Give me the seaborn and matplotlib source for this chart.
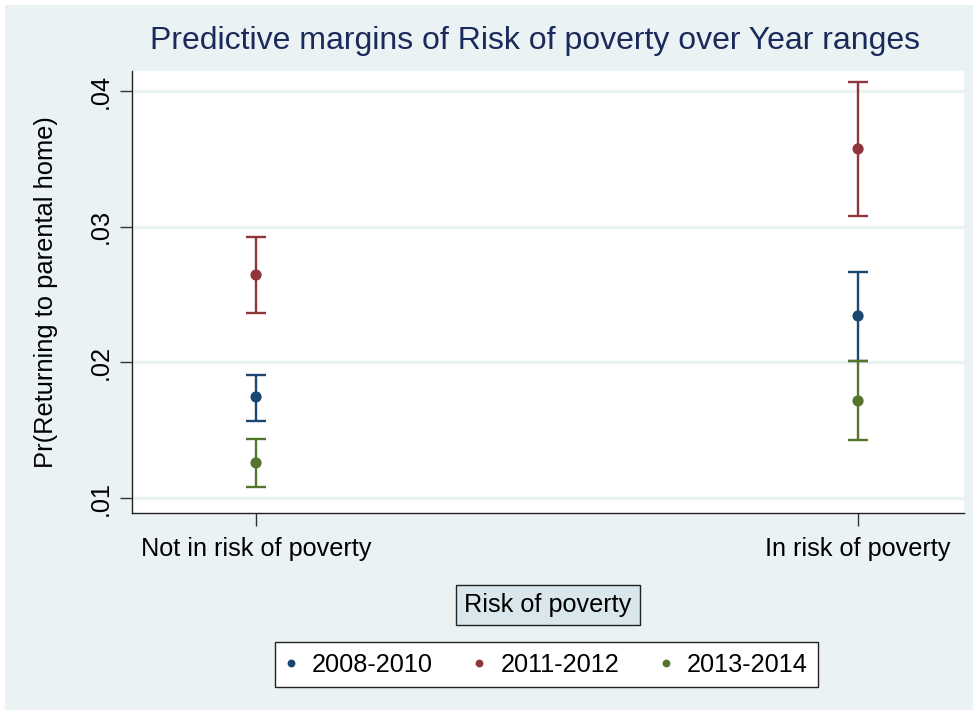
import matplotlib
matplotlib.use("Agg")
import matplotlib.pyplot as plt
import pandas as pd
import numpy as np
import seaborn as sns

# values
categories = ["Not in risk of poverty", "In risk of poverty"]
periods = ["2008-2010", "2011-2012", "2013-2014"]
margin = {
    "2008-2010": [0.01745, 0.02342],
    "2011-2012": [0.02644, 0.03573],
    "2013-2014": [0.01259, 0.01716],
}
ci_low = {
    "2008-2010": [0.01568, 0.02010],
    "2011-2012": [0.02364, 0.03079],
    "2013-2014": [0.01082, 0.01428],
}
ci_high = {
    "2008-2010": [0.01907, 0.02666],
    "2011-2012": [0.02924, 0.04066],
    "2013-2014": [0.01435, 0.02010],
}
colors = {"2008-2010": "#1a476f", "2011-2012": "#90353b", "2013-2014": "#55752f"}

rows = []
for p in periods:
    for i, c in enumerate(categories):
        rows.append({"Risk": c, "pos": i, "Period": p,
                     "Margin": margin[p][i], "lo": ci_low[p][i], "hi": ci_high[p][i]})
df = pd.DataFrame(rows)

sns.set_style("white")
plt.rcParams["font.family"] = ["Liberation Sans", "DejaVu Sans"]
plt.rcParams["text.color"] = "black"
plt.rcParams["axes.labelcolor"] = "black"
plt.rcParams["xtick.labelcolor"] = "black"
plt.rcParams["ytick.labelcolor"] = "black"

bg = "#eaf2f3"
fig = plt.figure(figsize=(9.78, 7.15), dpi=100)
fig.patch.set_facecolor(bg)
fig.patch.set_edgecolor("white")
fig.patch.set_linewidth(5.8)
ax = fig.add_axes([0.135, 0.2825, 0.8507, 0.6182])
ax.set_facecolor("white")

for p in periods:
    d = df[df["Period"] == p]
    ax.errorbar(d["pos"], d["Margin"],
                yerr=[d["Margin"] - d["lo"], d["hi"] - d["Margin"]],
                fmt="none", ecolor=colors[p], elinewidth=1.7, capsize=7,
                capthick=1.7, zorder=3)
sns.scatterplot(data=df, x="pos", y="Margin", hue="Period", palette=colors,
                hue_order=periods, s=65, edgecolor="none", ax=ax, zorder=4)

ax.set_xlim(-0.206, 1.176)
ax.set_ylim(0.0089, 0.04147)
ax.set_xticks([0, 1])
ax.set_xticklabels(categories, fontsize=18.2)
ax.set_yticks([0.01, 0.02, 0.03, 0.04])
ax.set_yticklabels([".01", ".02", ".03", ".04"], fontsize=18.2, rotation=90, va="center")
ax.tick_params(axis="both", direction="out", length=9, width=1, color="#333333",
               left=True, bottom=True)
ax.tick_params(axis="y", pad=5)
ax.tick_params(axis="x", pad=8)
ax.grid(axis="y", color=bg, linewidth=2.4)
ax.set_axisbelow(True)
for s in ["top", "right"]:
    ax.spines[s].set_visible(False)
for s in ["left", "bottom"]:
    ax.spines[s].set_color("#222222")
    ax.spines[s].set_linewidth(1.0)

ax.set_ylabel("Pr(Returning to parental home)", fontsize=18.4, labelpad=22)
ax.set_xlabel("Risk of poverty", fontsize=18.2, va="center",
              bbox=dict(boxstyle="square,pad=0.32", facecolor="#d9e6eb",
                        edgecolor="#222222", linewidth=1))
ax.xaxis.set_label_coords(0.5, -0.208)

ax.set_title("Predictive margins of Risk of poverty over Year ranges",
             fontsize=23, color="#1a2a5a", pad=16, x=0.484)

handles, labels = ax.get_legend_handles_labels()
ax.legend(handles, labels, ncol=3, loc="center", bbox_to_anchor=(0.559, 0.0706),
          bbox_transform=fig.transFigure, fontsize=18.2, frameon=True, fancybox=False,
          edgecolor="#222222", framealpha=1, handlelength=0.4, handletextpad=0.64,
          columnspacing=1.64, markerscale=0.7, borderpad=0.4)
ax.get_legend().get_frame().set_linewidth(1.0)

plt.savefig("out.png", dpi=100, facecolor=fig.get_facecolor(), edgecolor="white")
